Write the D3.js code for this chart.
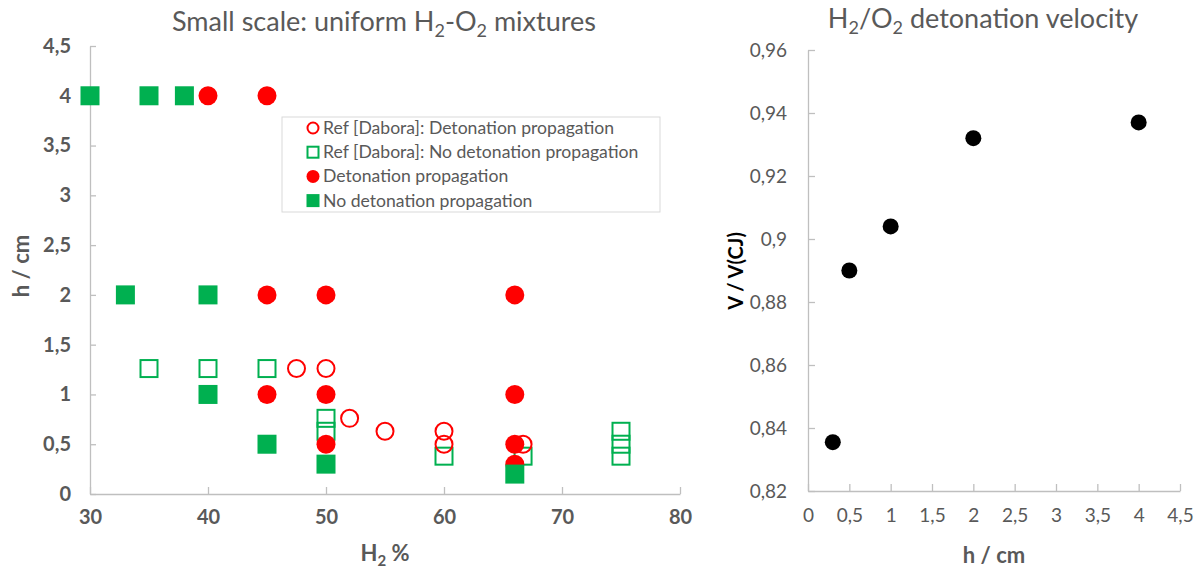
<!DOCTYPE html>
<html>
<head>
<meta charset="utf-8">
<script src="https://cdn.jsdelivr.net/npm/d3@7"></script>
<style>
  body { margin: 0; background: #fff; }
  svg { font-family: Lato, "Open Sans", sans-serif; }
</style>
</head>
<body>
<svg width="1202" height="568"></svg>
<script>
// Data: left chart (H2 % vs h / cm)
var refDetX = [47.5, 50, 52, 55, 60, 60, 66.7];
var refDetY = [1.26, 1.26, 0.76, 0.63, 0.63, 0.5, 0.5];
var refNoDetX = [35, 40, 45, 50, 50, 60, 66.7, 75, 75, 75];
var refNoDetY = [1.26, 1.26, 1.26, 0.76, 0.63, 0.38, 0.38, 0.63, 0.5, 0.38];
var detX = [40, 45, 45, 50, 66, 45, 50, 66, 50, 66, 66];
var detY = [4, 4, 2, 2, 2, 1, 1, 1, 0.5, 0.5, 0.3];
var noDetX = [30, 35, 38, 33, 40, 40, 45, 50, 66];
var noDetY = [4, 4, 4, 2, 2, 1, 0.5, 0.3, 0.2];

var legendLabels = [
  "Ref [Dabora]: Detonation propagation",
  "Ref [Dabora]: No detonation propagation",
  "Detonation propagation",
  "No detonation propagation"
];

// Data: right chart (h vs V / V(CJ))
var velH = [0.3, 0.5, 1, 2, 4];
var velRatio = [0.8355, 0.89, 0.904, 0.932, 0.937];

var leftXTicks = [30, 40, 50, 60, 70, 80];
var leftYTicks = [0, 0.5, 1, 1.5, 2, 2.5, 3, 3.5, 4, 4.5];
var rightXTicks = [0, 0.5, 1, 1.5, 2, 2.5, 3, 3.5, 4, 4.5];
var rightYTicks = [0.82, 0.84, 0.86, 0.88, 0.9, 0.92, 0.94, 0.96];

var svg = d3.select("svg");
var red = "#ff0000", green = "#00b050", grey = "#595959", axisCol = "#bfbfbf";
var comma = function(d) { return String(+d.toFixed(2)).replace(".", ","); };

function zip(xs, ys) { return xs.map(function(x, i) { return [x, ys[i]]; }); }

function styleAxis(g) {
  g.select(".domain").attr("stroke", axisCol).attr("stroke-width", 1.3);
  g.selectAll(".tick line").attr("stroke", axisCol).attr("stroke-width", 1.3);
  g.selectAll(".tick text").attr("fill", grey);
}

// ---------- Left chart ----------
var x1 = d3.scaleLinear().domain([30, 80]).range([90, 680]);
var y1 = d3.scaleLinear().domain([0, 4.5]).range([494, 46]);

svg.append("g")
  .attr("transform", "translate(0,494)")
  .call(d3.axisBottom(x1).tickValues(leftXTicks).tickFormat(comma)
    .tickSizeInner(-7).tickSizeOuter(0).tickPadding(16))
  .call(styleAxis)
  .selectAll(".tick text").attr("font-size", 20).attr("font-weight", "bold").attr("font-family", "Lato");

svg.append("g")
  .attr("transform", "translate(90,0)")
  .call(d3.axisLeft(y1).tickValues(leftYTicks).tickFormat(comma)
    .tickSizeInner(-6).tickSizeOuter(0).tickPadding(19))
  .call(styleAxis)
  .selectAll(".tick text").attr("font-size", 20).attr("font-weight", "bold").attr("font-family", "Lato");

var plot1 = svg.append("g");
var r = 9.5;

// open squares (Ref no detonation)
plot1.selectAll(".rns").data(zip(refNoDetX, refNoDetY)).enter().append("rect")
  .attr("x", function(d) { return x1(d[0]) - r + 1; })
  .attr("y", function(d) { return y1(d[1]) - r + 1; })
  .attr("width", 2 * r - 2).attr("height", 2 * r - 2)
  .attr("fill", "none").attr("stroke", green).attr("stroke-width", 2);

// open circles (Ref detonation)
plot1.selectAll(".rd").data(zip(refDetX, refDetY)).enter().append("circle")
  .attr("cx", function(d) { return x1(d[0]); })
  .attr("cy", function(d) { return y1(d[1]); })
  .attr("r", r - 1)
  .attr("fill", "none").attr("stroke", red).attr("stroke-width", 2);

// filled circles (detonation)
plot1.selectAll(".d").data(zip(detX, detY)).enter().append("circle")
  .attr("cx", function(d) { return x1(d[0]); })
  .attr("cy", function(d) { return y1(d[1]); })
  .attr("r", r)
  .attr("fill", red);

// filled squares (no detonation)
plot1.selectAll(".nd").data(zip(noDetX, noDetY)).enter().append("rect")
  .attr("x", function(d) { return x1(d[0]) - r; })
  .attr("y", function(d) { return y1(d[1]) - r; })
  .attr("width", 2 * r).attr("height", 2 * r)
  .attr("fill", green);

// legend
var legend = svg.append("g");
legend.append("rect")
  .attr("x", 282).attr("y", 117).attr("width", 378).attr("height", 95)
  .attr("fill", "#fff").attr("stroke", "#d9d9d9").attr("stroke-width", 1);

legendLabels.forEach(function(label, i) {
  var cy = 128 + i * 24.2, cx = 313, s = 6.5;
  if (i == 0) legend.append("circle").attr("cx", cx).attr("cy", cy).attr("r", s - 1)
    .attr("fill", "none").attr("stroke", red).attr("stroke-width", 2);
  if (i == 1) legend.append("rect").attr("x", cx - s + 1).attr("y", cy - s + 1)
    .attr("width", 2 * s - 2).attr("height", 2 * s - 2)
    .attr("fill", "none").attr("stroke", green).attr("stroke-width", 2);
  if (i == 2) legend.append("circle").attr("cx", cx).attr("cy", cy).attr("r", s).attr("fill", red);
  if (i == 3) legend.append("rect").attr("x", cx - s).attr("y", cy - s)
    .attr("width", 2 * s).attr("height", 2 * s).attr("fill", green);
  legend.append("text")
    .attr("x", 323).attr("y", cy + 6)
    .attr("font-size", 17.6).attr("fill", grey)
    .text(label);
});

// titles
var t1 = svg.append("text").attr("x", 384).attr("y", 31)
  .attr("text-anchor", "middle").attr("font-size", 27).attr("fill", grey);
t1.append("tspan").text("Small scale: uniform H");
t1.append("tspan").attr("font-size", 18).attr("dy", 6).text("2");
t1.append("tspan").attr("dy", -6).text("-O");
t1.append("tspan").attr("font-size", 18).attr("dy", 6).text("2");
t1.append("tspan").attr("dy", -6).text(" mixtures");

var xt1 = svg.append("text").attr("x", 385).attr("y", 561)
  .attr("text-anchor", "middle").attr("font-size", 22).attr("font-weight", "bold").attr("fill", grey);
xt1.append("tspan").text("H");
xt1.append("tspan").attr("font-size", 15).attr("dy", 5).text("2");
xt1.append("tspan").attr("dy", -5).text(" %");

svg.append("text")
  .attr("transform", "translate(29,266) rotate(-90)")
  .attr("text-anchor", "middle").attr("font-size", 22).attr("font-weight", "bold").attr("fill", grey)
  .text("h / cm");

// ---------- Right chart ----------
var x2 = d3.scaleLinear().domain([0, 4.5]).range([808, 1180]);
var y2 = d3.scaleLinear().domain([0.82, 0.96]).range([491, 50]);

svg.append("g")
  .attr("transform", "translate(0,491)")
  .call(d3.axisBottom(x2).tickValues(rightXTicks).tickFormat(comma)
    .tickSizeInner(-7).tickSizeOuter(0).tickPadding(18))
  .call(styleAxis)
  .selectAll(".tick text").attr("font-size", 19).attr("font-family", "Lato");

svg.append("g")
  .attr("transform", "translate(808,0)")
  .call(d3.axisLeft(y2).tickValues(rightYTicks).tickFormat(comma)
    .tickSizeInner(-7).tickSizeOuter(0).tickPadding(21))
  .call(styleAxis)
  .selectAll(".tick text").attr("font-size", 19).attr("font-family", "Lato");

svg.append("g").selectAll("circle").data(zip(velH, velRatio)).enter().append("circle")
  .attr("cx", function(d) { return x2(d[0]); })
  .attr("cy", function(d) { return y2(d[1]); })
  .attr("r", 8)
  .attr("fill", "#000");

var t2 = svg.append("text").attr("x", 983).attr("y", 28)
  .attr("text-anchor", "middle").attr("font-size", 27).attr("fill", grey);
t2.append("tspan").text("H");
t2.append("tspan").attr("font-size", 18).attr("dy", 6).text("2");
t2.append("tspan").attr("dy", -6).text("/O");
t2.append("tspan").attr("font-size", 18).attr("dy", 6).text("2");
t2.append("tspan").attr("dy", -6).text(" detonation velocity");

svg.append("text").attr("x", 994).attr("y", 563)
  .attr("text-anchor", "middle").attr("font-size", 22).attr("font-weight", "bold").attr("fill", grey)
  .text("h / cm");

svg.append("text")
  .attr("transform", "translate(743,271) rotate(-90)")
  .attr("text-anchor", "middle").attr("font-size", 20).attr("font-weight", "bold").attr("fill", "#000")
  .text("V / V(CJ)");
</script>
</body>
</html>
